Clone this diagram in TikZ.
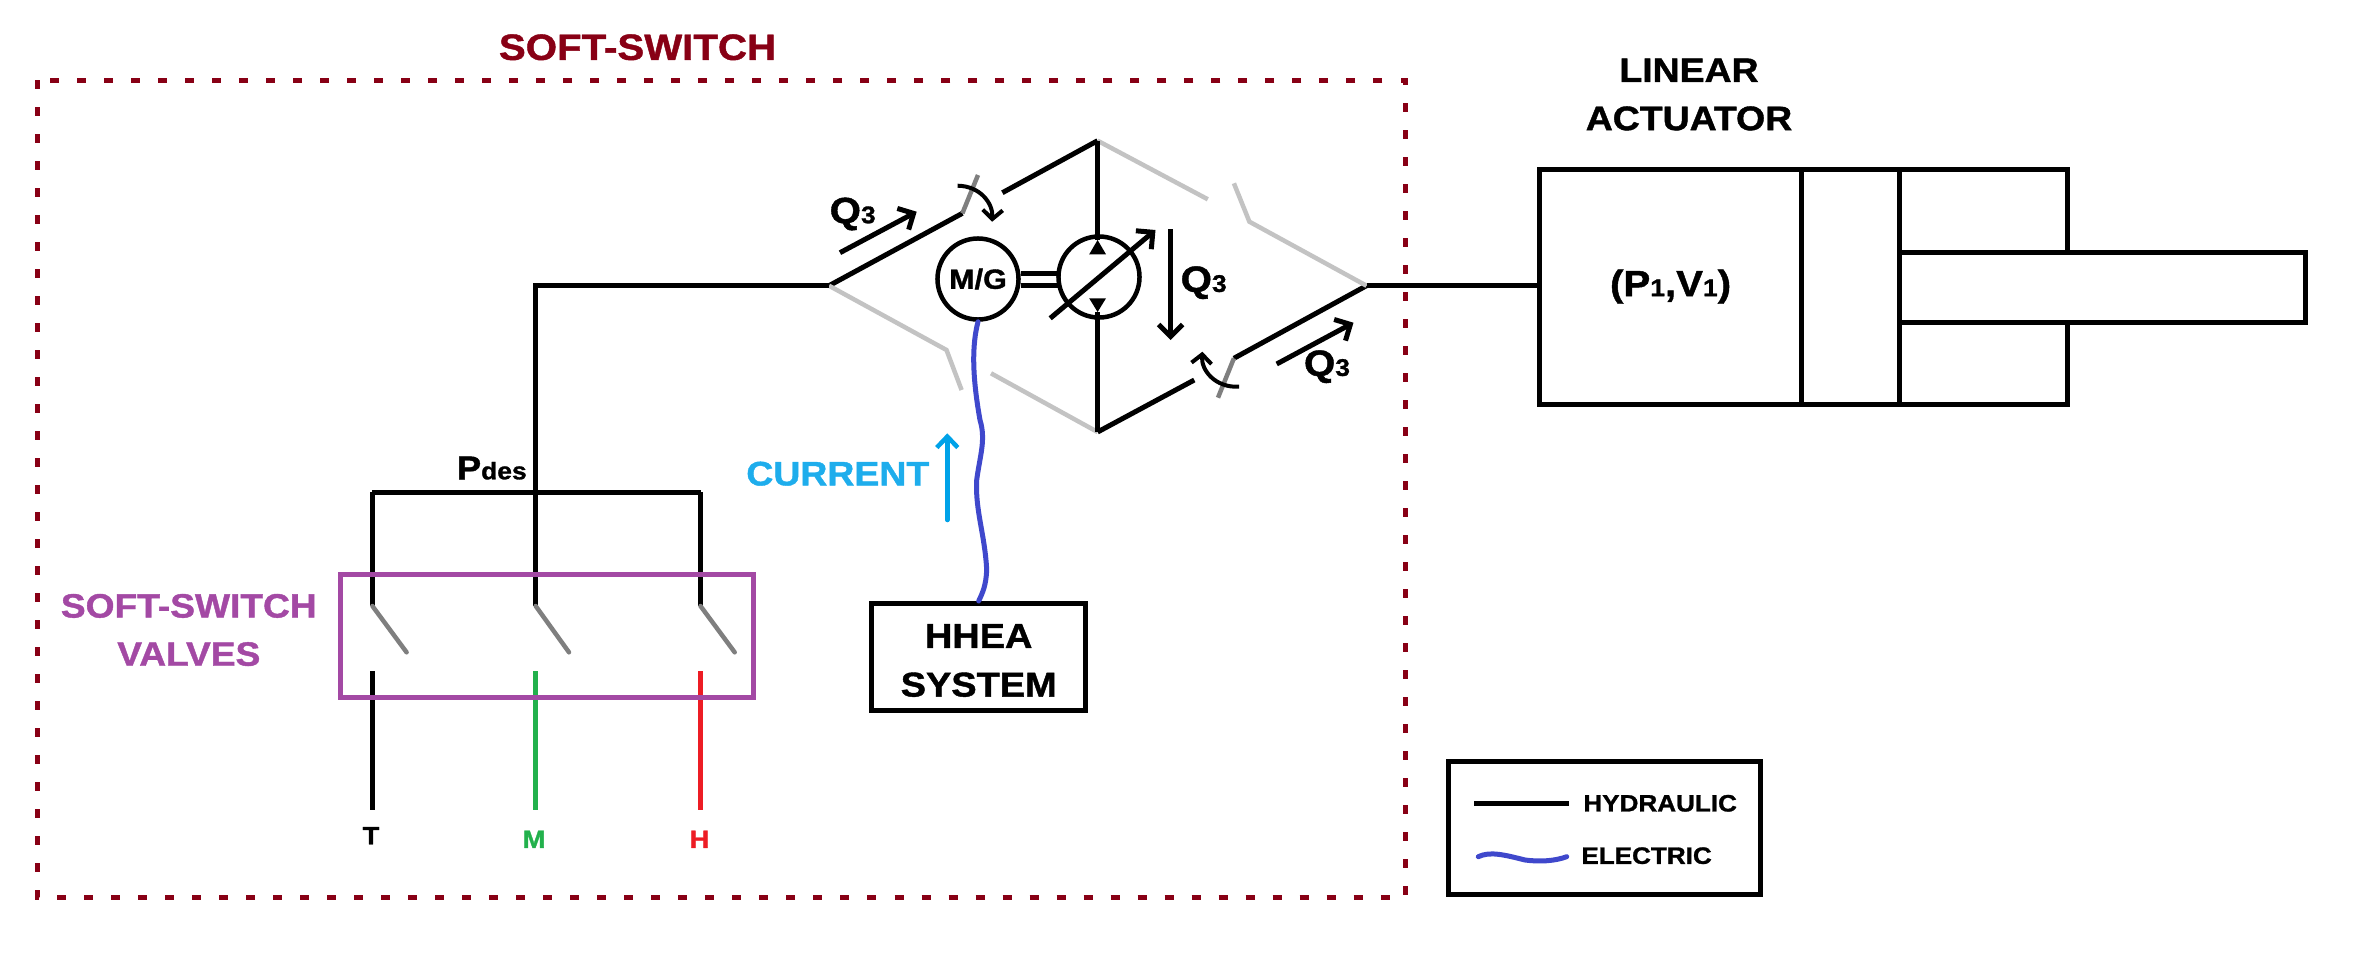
\documentclass[tikz,border=0pt]{standalone}
\usepackage{fontspec}
\setmainfont{Liberation Sans}
\newfontfamily\widefont[FakeStretch=1.1,FakeBold=1.2]{Liberation Sans}
\usetikzlibrary{arrows.meta}

\definecolor{darkred}{HTML}{880015}
\definecolor{valvepurple}{HTML}{A349A4}
\definecolor{wireblue}{HTML}{3F48CC}
\definecolor{currentblue}{HTML}{00A2E8}
\definecolor{currenttext}{HTML}{1EADEC}
\definecolor{midgreen}{HTML}{22B14C}
\definecolor{highred}{HTML}{ED1C24}
\definecolor{valvegray}{HTML}{7F7F7F}
\definecolor{offgray}{HTML}{C3C3C3}

\tikzset{
  pipe/.style={line width=.05cm},
  offpipe/.style={line width=.045cm,color=offgray},
  valveblade/.style={line width=.045cm,color=valvegray},
  wire/.style={line width=.05cm,color=wireblue,line cap=round},
  flow/.style={line width=.05cm,-{Straight Barb[length=.12cm,width=.24cm]}},
  swing/.style={line width=.04cm,-{Straight Barb[length=.09cm,width=.2cm]}},
  lbl/.style={inner sep=0pt,font=\widefont\bfseries\fontsize{9.67pt}{13.7pt}\selectfont,align=center},
  qlbl/.style={inner sep=0pt,font=\widefont\bfseries\fontsize{10.4pt}{12pt}\selectfont},
  tinylbl/.style={inner sep=0pt,font=\widefont\bfseries\fontsize{7.1pt}{9pt}\selectfont},
  keylbl/.style={inner sep=0pt,anchor=west,font=\widefont\bfseries\fontsize{6.74pt}{9pt}\selectfont},
  machine/.style={circle,draw,line width=.045cm,minimum size=.81cm,inner sep=0pt},
}
\newcommand{\smalltxt}[1]{{\fontsize{6.83pt}{9pt}\selectfont #1}}

\begin{document}
\begin{tikzpicture}[x=.01cm,y=-.01cm]
\useasboundingbox (0,0) rectangle (2371,954);

\draw [darkred,line width=.05cm,dash pattern=on .09cm off .18cm] (37.3,80) rectangle (1405,897.7);
\node (softtitle) [lbl,text=darkred,font=\widefont\bfseries\fontsize{10.4pt}{12pt}\selectfont] at (637.5,47.3) {SOFT-SWITCH};

\coordinate (jleft) at (829,285.7);
\coordinate (jtop) at (1097.6,140.7);
\coordinate (jbot) at (1097.6,432);
\coordinate (jright) at (1366.5,285.7);
\coordinate (feed) at (535.7,285.7);
\coordinate (bus) at (535.7,492.3);
\coordinate (busl) at (372.4,492.3);
\coordinate (busr) at (700.5,492.3);

\node (mg) [machine] at (978,279) {\fontsize{7.9pt}{9pt}\selectfont\widefont\bfseries M/G};
\node (pump) [machine] at (1099,277) {};

% bridge
\coordinate (ulend) at (962.4,213.3);
\coordinate (ulblade) at (978,175);
\coordinate (ulstart) at (1002.4,192.7);
\coordinate (lrend) at (1233.9,358.3);
\coordinate (lrblade) at (1218,397.7);
\coordinate (lrstart) at (1194.3,380);
\draw [pipe] (jleft) -- (ulend);
\draw [valveblade] (ulend) -- (ulblade);
\draw [pipe] (ulstart) -- (jtop);
\draw [pipe] (jright) -- (lrend);
\draw [valveblade] (lrend) -- (lrblade);
\draw [pipe] (lrstart) -- (jbot);

\coordinate (trend) at (1207.8,199.3);
\coordinate (trstart) at (1233.9,183.3);
\coordinate (trknee) at (1249.4,221.7);
\coordinate (llknee) at (946.5,350);
\coordinate (llend) at (961.6,390);
\coordinate (llstart) at (991,373.3);
\draw [offpipe] (jtop) -- (trend);
\draw [offpipe] (trstart) -- (trknee) -- (jright);
\draw [offpipe] (jleft) -- (llknee) -- (llend);
\draw [offpipe] (llstart) -- (jbot);

\coordinate (ptop) at (1097.6,240);
\coordinate (pbot) at (1097.6,312);
\draw [pipe] (jtop) -- (ptop);
\draw [pipe] (jbot) -- (pbot);
\fill (ptop) -- (1106,254.3) -- (1089.2,254.3) -- cycle;
\fill (pbot) -- (1106,298.3) -- (1089.2,298.3) -- cycle;

\coordinate (shafta) at (1020.8,273.3);
\coordinate (shaftb) at (1057.6,273.3);
\coordinate (shaftc) at (1020.8,285);
\coordinate (shaftd) at (1057.6,285);
\draw [pipe] (shafta) -- (shaftb);
\draw [pipe] (shaftc) -- (shaftd);

\coordinate (diaga) at (1050.2,318.3);
\coordinate (diagb) at (1155.5,230);
\draw [flow] (diaga) -- (diagb);

\coordinate (qa) at (840,252.7);
\coordinate (qb) at (916.7,211.7);
\coordinate (qc) at (1276.7,364);
\coordinate (qd) at (1353.5,322.7);
\coordinate (qe) at (1170.6,229.3);
\coordinate (qf) at (1170.6,340);
\draw [flow] (qa) -- (qb);
\draw [flow] (qc) -- (qd);
\draw [flow] (qe) -- (qf);
\node (qleft) [qlbl] at (852.7,214) {Q\smalltxt{3}};
\node (qmid) [qlbl] at (1203.7,282.7) {Q\smalltxt{3}};
\node (qright) [qlbl] at (1327,366.7) {Q\smalltxt{3}};

\coordinate (swa) at (957.6,185.7);
\coordinate (swb) at (992.2,221.7);
\coordinate (swc) at (1239.2,386.7);
\coordinate (swd) at (1202.4,351.7);
\draw [swing] (swa) .. controls (980,186) and (993,203) .. (swb);
\draw [swing] (swc) .. controls (1215,388) and (1201,370) .. (swd);

% feed line and valves
\draw [pipe] (jleft) -- (feed) -- (bus);
\draw [pipe] (busl) -- (busr);
\node (pdes) [anchor=base,inner sep=0pt,font=\widefont\bfseries\fontsize{9.4pt}{12pt}\selectfont] at (491.8,479.3) {P\smalltxt{des}};

\coordinate (tv) at (372.4,606);
\coordinate (mv) at (535.7,606);
\coordinate (hv) at (700.5,606);
\draw [pipe] (busl) -- (tv);
\draw [pipe] (bus) -- (mv);
\draw [pipe] (busr) -- (hv);
\coordinate (tb) at (406.6,652.3);
\coordinate (mb) at (569,652.3);
\coordinate (hb) at (734.7,652.3);
\draw [valveblade,line cap=round] (tv) -- (tb);
\draw [valveblade,line cap=round] (mv) -- (mb);
\draw [valveblade,line cap=round] (hv) -- (hb);

\coordinate (tl) at (372.4,671);
\coordinate (ml) at (535.7,671);
\coordinate (hl) at (700.5,671);
\coordinate (te) at (372.4,810);
\coordinate (me) at (535.7,810);
\coordinate (he) at (700.5,810);
\draw [pipe] (tl) -- (te);
\draw [line width=.045cm,midgreen] (ml) -- (me);
\draw [line width=.045cm,highred] (hl) -- (he);
\node (tport) [tinylbl] at (371,835.7) {T};
\node (mport) [tinylbl,text=midgreen] at (534,839.3) {M};
\node (hport) [tinylbl,text=highred] at (699.5,839.3) {H};

\draw [valvepurple,line width=.05cm] (340,574.3) rectangle (753.6,697.3);
\node (valvelbl) [lbl,text=valvepurple,font=\widefont\bfseries\fontsize{9.6pt}{13.7pt}\selectfont] at (188.8,630) {SOFT-SWITCH\\VALVES};

% electric side
\node (hhea) [draw,line width=.05cm,minimum width=2.14cm,minimum height=1.07cm,inner sep=0pt] at (978.7,657) {};
\node (hheatxt) [lbl,font=\widefont\bfseries\fontsize{9.8pt}{13.85pt}\selectfont] at (978.7,660.5) {HHEA\\SYSTEM};
\draw [wire] (mg.south) .. controls (972,345) and (972,375) .. (980,420)
  .. controls (986,440) and (980,455) .. (976.7,480)
  .. controls (975,510) and (985,535) .. (986.7,570)
  .. controls (986,585) and (983,592) .. (hhea.north);
\coordinate (cura) at (947.3,520);
\coordinate (curb) at (947.3,433.3);
\draw [line width=.045cm,currentblue,line cap=round,-{Straight Barb[length=.11cm,width=.21cm]}] (cura) -- (curb);
\node (curlbl) [lbl,text=currenttext] at (837.8,473.7) {CURRENT};

% actuator
\coordinate (capin) at (1539.3,285.7);
\draw [pipe] (jright) -- (capin);
\draw [pipe] (2067,252.3) -- (2067,169.3) -- (1539.3,169.3) -- (1539.3,404.3) -- (2067,404.3) -- (2067,322.3);
\draw [pipe] (1801,169.3) -- (1801,404.3);
\draw [pipe] (1899.7,169.3) -- (1899.7,404.3);
\draw [pipe] (1899.7,252.3) rectangle (2305,322.3);
\node (pvlbl) [qlbl] at (1670.6,286.7) {(P\smalltxt{1},V\smalltxt{1})};
\node (actlbl) [lbl] at (1689,94.5) {LINEAR\\ACTUATOR};

% legend
\draw [pipe] (1448.3,761) rectangle (1760,894.3);
\coordinate (keya) at (1474,803.3);
\coordinate (keyb) at (1569,803.3);
\coordinate (keyc) at (1478.3,856.7);
\coordinate (keyd) at (1566.7,856.7);
\draw [pipe] (keya) -- (keyb);
\draw [wire] (keyc) .. controls (1490,851) and (1505,855) .. (1525,860) .. controls (1540,862) and (1555,861) .. (keyd);
\node (hydlbl) [keylbl] at (1582.7,803.3) {HYDRAULIC};
\node (elelbl) [keylbl] at (1580.7,855.7) {ELECTRIC};

\end{tikzpicture}
\end{document}
